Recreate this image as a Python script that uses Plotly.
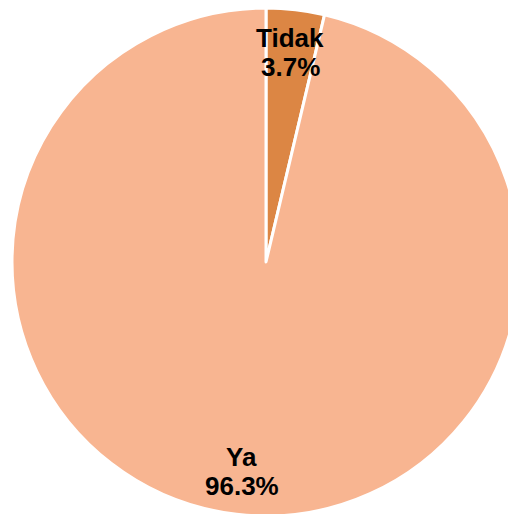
import math
import plotly.graph_objects as go

labels = ["Tidak", "Ya"]
values = [3.7, 96.3]
colors = ["#DC8644", "#F8B591"]

W, H = 520, 516
ML, MT = 12, 8

fig = go.Figure(go.Pie(
    labels=labels,
    values=values,
    sort=False,
    direction="clockwise",
    rotation=0,
    marker=dict(colors=colors, line=dict(color="white", width=3)),
    textinfo="none",
    hoverinfo="label+percent",
    showlegend=False,
))

# label positions from slice mid-angles (paper coords = plot area)
total = sum(values)
plot_w, plot_h = W - ML, H - MT
R = min(plot_w, plot_h) / 2
cum = 0
annotations = []
font = dict(family="Liberation Sans, Arial", size=26, color="black")
for lab, v in zip(labels, values):
    mid = (cum + v / 2) / total * 2 * math.pi
    cum += v
    rr = 0.83 * R
    dx = rr * math.sin(mid)
    dy = rr * math.cos(mid)
    xp = 0.5 + dx / plot_w
    yp = 0.5 + dy / plot_h
    for txt, shift in ((lab, 14.5), (f"{v / total * 100:.1f}%", -14.5)):
        annotations.append(dict(
            x=xp, y=yp, xref="paper", yref="paper",
            xanchor="center", yanchor="middle",
            text=f"<b>{txt}</b>", yshift=shift,
            showarrow=False, font=font, align="center",
        ))

fig.update_layout(
    width=W, height=H,
    margin=dict(l=ML, r=0, t=MT, b=0),
    paper_bgcolor="white",
    plot_bgcolor="white",
    annotations=annotations,
)

fig.write_html(
    "out.html",
    config={"displayModeBar": False},
    post_script="document.body.style.margin='0';"
                "document.documentElement.style.overflow='hidden';"
                "document.body.style.overflow='hidden';",
)
